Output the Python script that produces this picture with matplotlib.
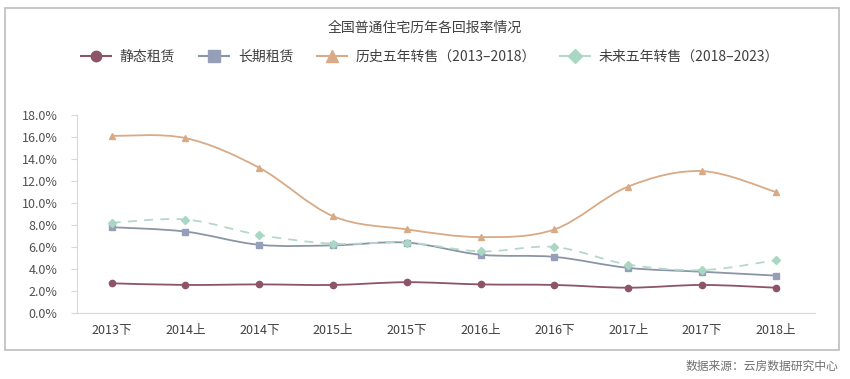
import numpy as np
import matplotlib.pyplot as plt
from matplotlib.path import Path
from matplotlib.patches import PathPatch, Rectangle
from matplotlib.lines import Line2D

plt.rcParams['font.family'] = ['Noto Sans CJK SC', 'DejaVu Sans']

periods = ["2013下", "2014上", "2014下", "2015上", "2015下",
           "2016上", "2016下", "2017上", "2017下", "2018上"]
static_rent = [2.7, 2.55, 2.6, 2.55, 2.8, 2.6, 2.55, 2.3, 2.55, 2.3]
long_rent = [7.8, 7.4, 6.2, 6.15, 6.4, 5.3, 5.1, 4.1, 3.75, 3.4]
hist_sale = [16.1, 15.9, 13.2, 8.8, 7.6, 6.9, 7.6, 11.5, 12.9, 11.0]
future_sale = [8.2, 8.5, 7.1, 6.3, 6.4, 5.6, 6.0, 4.4, 3.9, 4.8]

names = ["静态租赁", "长期租赁", "历史五年转售（2013–2018）", "未来五年转售（2018–2023）"]
series = [static_rent, long_rent, hist_sale, future_sale]
line_colors = ["#8c5468", "#8a96a6", "#d8aa86", "#b5d8cc"]
marker_colors = ["#8c5468", "#95a0b8", "#d8aa86", "#aad6c4"]
markers = ["o", "s", "^", "D"]
msizes = [4.5, 5, 5, 4.5]
styles = ["-", "-", "-", (0, (5, 4))]


def smooth_path(xs, ys):
    # Catmull-Rom -> cubic bezier, like excel's smoothed lines
    verts = [(xs[0], ys[0])]
    codes = [Path.MOVETO]
    n = len(xs)
    for i in range(n - 1):
        x0, y0 = (xs[i - 1], ys[i - 1]) if i > 0 else (xs[i], ys[i])
        x1, y1 = xs[i], ys[i]
        x2, y2 = xs[i + 1], ys[i + 1]
        x3, y3 = (xs[i + 2], ys[i + 2]) if i + 2 < n else (x2, y2)
        c1 = (x1 + (x2 - x0) / 6, y1 + (y2 - y0) / 6)
        c2 = (x2 - (x3 - x1) / 6, y2 - (y3 - y1) / 6)
        verts += [c1, c2, (x2, y2)]
        codes += [Path.CURVE4] * 3
    return Path(verts, codes)


fig = plt.figure(figsize=(8.5, 3.79), dpi=100)
fig.patches.append(Rectangle((5 / 850, 1 - 350 / 379), 834 / 850, 342 / 379,
                             transform=fig.transFigure, fill=False,
                             edgecolor="#bdbdbd", linewidth=1.2))

ax = fig.add_axes([77 / 850, 1 - 313 / 379, 738 / 850, 198 / 379])
x = np.arange(len(periods))

for vals, lc, mc, mk, ms, ls in zip(series, line_colors, marker_colors, markers, msizes, styles):
    patch = PathPatch(smooth_path(x, vals), facecolor="none", edgecolor=lc,
                      linewidth=1.3, linestyle=ls)
    ax.add_patch(patch)
    ax.plot(x, vals, linestyle="none", marker=mk, markersize=ms,
            markerfacecolor=mc, markeredgecolor=mc)

ax.set_xlim(-0.47, len(periods) - 0.47)
ax.set_ylim(0, 18)
ax.set_yticks(np.arange(0, 18.1, 2))
ax.set_yticklabels([f"{v:.1f}%" for v in np.arange(0, 18.1, 2)])
ax.set_xticks(x)
ax.set_xticklabels(periods)
ax.tick_params(axis="x", length=0, labelsize=9, colors="#404040", pad=8)
ax.tick_params(axis="y", length=4, width=0.8, color="#d9d9d9", labelsize=9,
               labelcolor="#505050", pad=10)
for s in ["top", "right"]:
    ax.spines[s].set_visible(False)
for s in ["left", "bottom"]:
    ax.spines[s].set_color("#d9d9d9")

fig.text(425 / 850, 1 - 28 / 379, "全国普通住宅历年各回报率情况", ha="center", va="center",
         fontsize=10, color="#404040")

handles = [Line2D([], [], color=lc, linestyle="-", linewidth=1.5, marker=mk,
                  markersize=ms + 3, markerfacecolor=mc, markeredgecolor=mc)
           for lc, mc, mk, ms in zip(line_colors, marker_colors, markers, msizes)]
fig.legend(handles, names, loc="center", bbox_to_anchor=(430 / 850, 1 - 57 / 379),
           ncol=4, frameon=False, fontsize=10, handlelength=2.2,
           columnspacing=1.7, handletextpad=0.6, labelcolor="#404040")

fig.text(838 / 850, 1 - 366 / 379, "数据来源：云房数据研究中心", ha="right", va="center",
         fontsize=8.5, color="#707070")

fig.savefig("out.png", dpi=100)
